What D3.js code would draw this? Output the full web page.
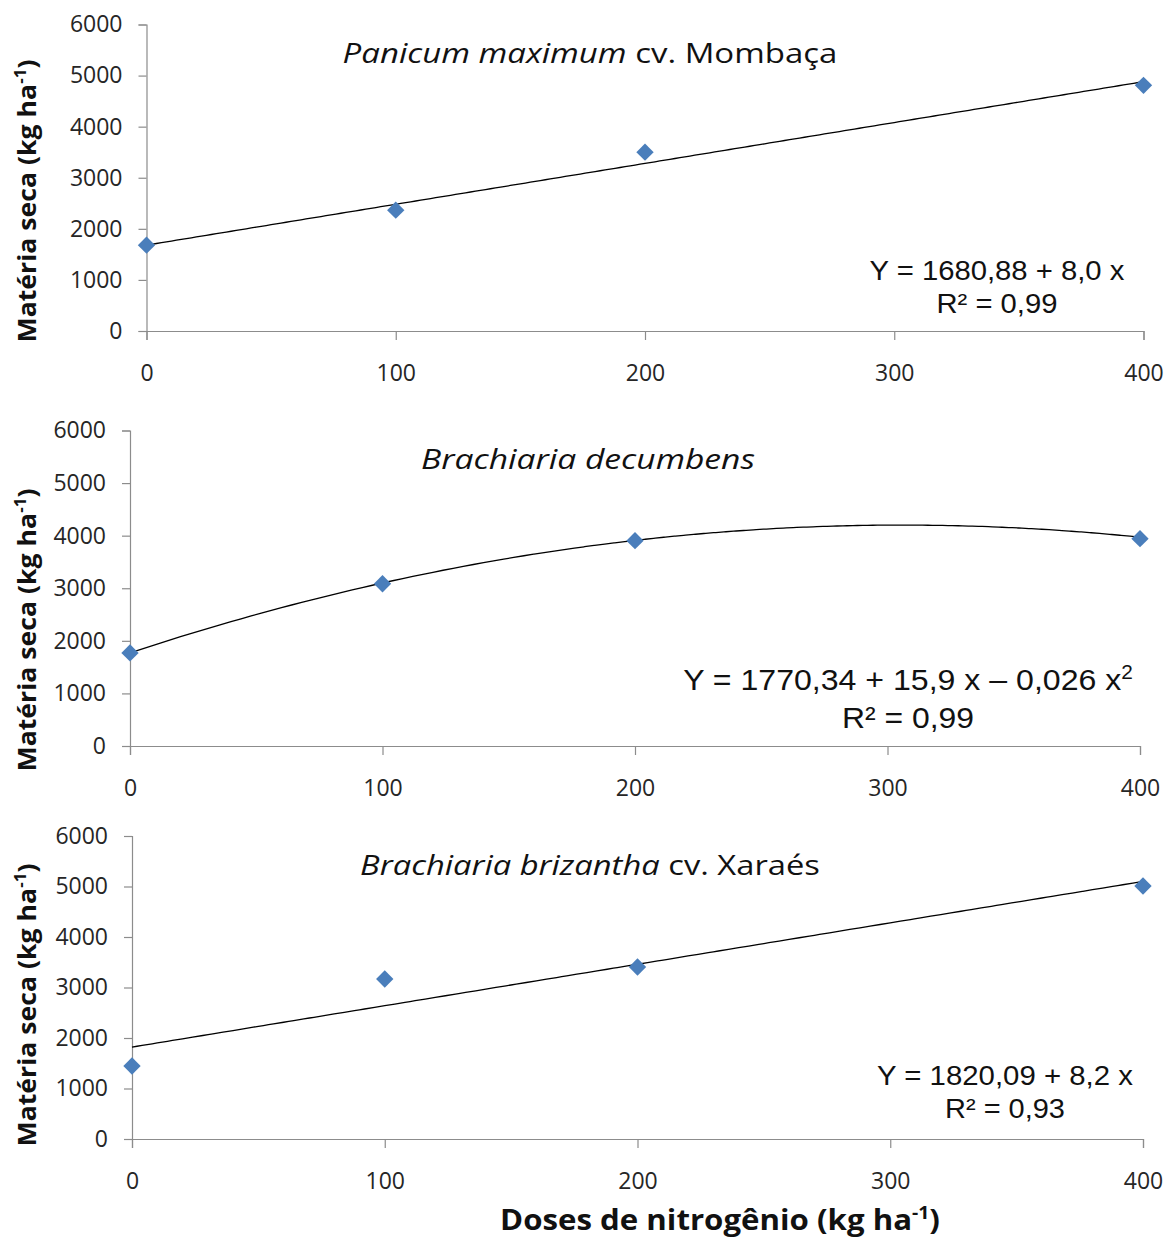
<!DOCTYPE html>
<html>
<head>
<meta charset="utf-8">
<script src="https://cdn.jsdelivr.net/npm/d3@7"></script>
<style>
    body { margin: 0; background: #fff; }
</style>
</head>
<body>
<div id="chart"></div>
<script>
// x values (doses of nitrogen) and axis ticks
const doses = [0, 100, 200, 400];
const xTicks = [0, 100, 200, 300, 400];
const yTicks = [0, 1000, 2000, 3000, 4000, 5000, 6000];

// dry matter values
const mombacaValues = [1680, 2365, 3500, 4810];
const decumbensValues = [1770, 3086, 3905, 3943];
const xaraesValues = [1446, 3168, 3406, 5010];

// regression coefficients [b0, b1, b2] as printed
const mombacaCoef = [1680.88, 8.0, 0];
const decumbensCoef = [1770.34, 15.9, -0.026];
const xaraesCoef = [1820.09, 8.2, 0];

// titles and equation texts
const titles = [
    [{t: "Panicum maximum", i: true}, {t: " cv. Mombaça", i: false}],
    [{t: "Brachiaria decumbens", i: true}],
    [{t: "Brachiaria brizantha", i: true}, {t: " cv. Xaraés", i: false}]
];
const equations = [
    ["Y = 1680,88 + 8,0 x", ""],
    ["Y = 1770,34 + 15,9 x \u2013 0,026 x", "2"],
    ["Y = 1820,09 + 8,2 x", ""]
];
const r2Labels = ["R\u00b2 = 0,99", "R\u00b2 = 0,99", "R\u00b2 = 0,93"];

const width = 1166;
const height = 1238;

const svg = d3.select("#chart").append("svg")
    .attr("width", width)
    .attr("height", height)
    .attr("viewBox", [0, 0, width, height]);

const tickFont = "'Open Sans', sans-serif";
const eqFont = "'Liberation Sans', Arial, sans-serif";

// stretch a text horizontally (along its own direction) to a given width
function fitWidth(text, target, cx, cy, rotate) {
    const w = text.node().getBBox().width;
    const sx = target / w;
    if (rotate) {
        text.attr("transform", `translate(${cx},${cy}) rotate(-90) scale(${sx},1)`);
    } else {
        text.attr("transform", `translate(${cx},${cy}) scale(${sx},1) translate(${-cx},${-cy})`);
    }
}

// one panel of the figure
function Panel(values, coef, idx, box) {
    const xScale = d3.scaleLinear().domain([0, 400]).range([box.left, box.right]);
    const yScale = d3.scaleLinear().domain([0, 6000]).range([box.bottom, box.top]);

    const g = svg.append("g");

    // y axis
    g.append("g")
        .attr("transform", `translate(${box.left},0)`)
        .call(d3.axisLeft(yScale).tickValues(yTicks).tickSize(8).tickPadding(16).tickFormat(d3.format("d")))
        .call(a => a.selectAll("path, line").attr("stroke", "#8c8c8c").attr("stroke-width", 1.2))
        .call(a => a.selectAll("text")
            .attr("font-family", tickFont)
            .attr("font-size", 23)
            .attr("fill", "#262626"));

    // x axis
    g.append("g")
        .attr("transform", `translate(0,${box.bottom})`)
        .call(d3.axisBottom(xScale).tickValues(xTicks).tickSize(9).tickPadding(25).tickSizeOuter(9))
        .call(a => a.selectAll("path, line").attr("stroke", "#8c8c8c").attr("stroke-width", 1.2))
        .call(a => a.selectAll("text")
            .attr("font-family", tickFont)
            .attr("font-size", 23)
            .attr("fill", "#262626"));

    // trend line from the printed equation
    const xs = d3.range(0, 401, 4);
    const line = d3.line()
        .x(d => xScale(d))
        .y(d => yScale(coef[0] + coef[1] * d + coef[2] * d * d))
        .curve(d3.curveMonotoneX);
    g.append("path")
        .attr("d", line(xs))
        .attr("fill", "none")
        .attr("stroke", "#000")
        .attr("stroke-width", 1.3);

    // diamonds
    g.append("g")
        .selectAll("path")
        .data(doses)
        .join("path")
        .attr("d", d3.symbol(d3.symbolSquare, 150))
        .attr("transform", (d, i) => `translate(${xScale(d)},${yScale(values[i])}) rotate(45)`)
        .attr("fill", "#4a7ebb");

    // panel title
    const title = g.append("text")
        .attr("x", box.titleX)
        .attr("y", box.titleY)
        .attr("text-anchor", "middle")
        .attr("font-family", tickFont)
        .attr("font-size", 28)
        .attr("fill", "#111");
    titles[idx].forEach(p => {
        title.append("tspan").attr("font-style", p.i ? "italic" : "normal").text(p.t);
    });
    fitWidth(title, box.titleW, box.titleX, box.titleY);

    // equation
    const eq = g.append("text")
        .attr("x", box.eqX)
        .attr("y", box.eqY)
        .attr("text-anchor", "middle")
        .attr("font-family", eqFont)
        .attr("font-size", box.eqSize)
        .attr("fill", "#111")
        .text(equations[idx][0]);
    if (equations[idx][1]) {
        eq.append("tspan")
            .attr("dy", -11)
            .attr("font-size", box.eqSize * 0.65)
            .text(equations[idx][1]);
    }
    fitWidth(eq, box.eqW[0], box.eqX, box.eqY);
    const r2 = g.append("text")
        .attr("x", box.eqX)
        .attr("y", box.eqY + box.eqGap)
        .attr("text-anchor", "middle")
        .attr("font-family", eqFont)
        .attr("font-size", box.eqSize)
        .attr("fill", "#111")
        .text(r2Labels[idx]);
    fitWidth(r2, box.eqW[1], box.eqX, box.eqY + box.eqGap);

    // y axis title
    const yt = g.append("text")
        .attr("text-anchor", "middle")
        .attr("font-family", tickFont)
        .attr("font-weight", "bold")
        .attr("font-size", 25)
        .attr("fill", "#111")
        .text("Matéria seca (kg ha");
    yt.append("tspan").attr("dy", -10).attr("font-size", 16).text("-1");
    yt.append("tspan").attr("dy", 10).text(")");
    fitWidth(yt, 283, 36, box.yTitleY, true);
}

Panel(mombacaValues, mombacaCoef, 0, {
    left: 146.5, right: 1143.5, top: 24.5, bottom: 331,
    titleX: 590, titleY: 63, titleW: 495,
    eqX: 997, eqY: 280, eqGap: 33, eqSize: 28, eqW: [255, 121], yTitleY: 201
});
Panel(decumbensValues, decumbensCoef, 1, {
    left: 130, right: 1140, top: 430.5, bottom: 746,
    titleX: 588, titleY: 469, titleW: 334,
    eqX: 908, eqY: 690, eqGap: 38, eqSize: 30, eqW: [450, 132], yTitleY: 630
});
Panel(xaraesValues, xaraesCoef, 2, {
    left: 132, right: 1143, top: 836, bottom: 1139,
    titleX: 590, titleY: 875, titleW: 460,
    eqX: 1005, eqY: 1085, eqGap: 33, eqSize: 28, eqW: [256, 120], yTitleY: 1005
});

// bottom axis title
const xt = svg.append("text")
    .attr("x", 720)
    .attr("y", 1230)
    .attr("text-anchor", "middle")
    .attr("font-family", tickFont)
    .attr("font-weight", "bold")
    .attr("font-size", 29)
    .attr("fill", "#111")
    .text("Doses de nitrogênio (kg ha");
xt.append("tspan").attr("dy", -11).attr("font-size", 18).text("-1");
xt.append("tspan").attr("dy", 11).text(")");
fitWidth(xt, 440, 720, 1230);
</script>
</body>
</html>
